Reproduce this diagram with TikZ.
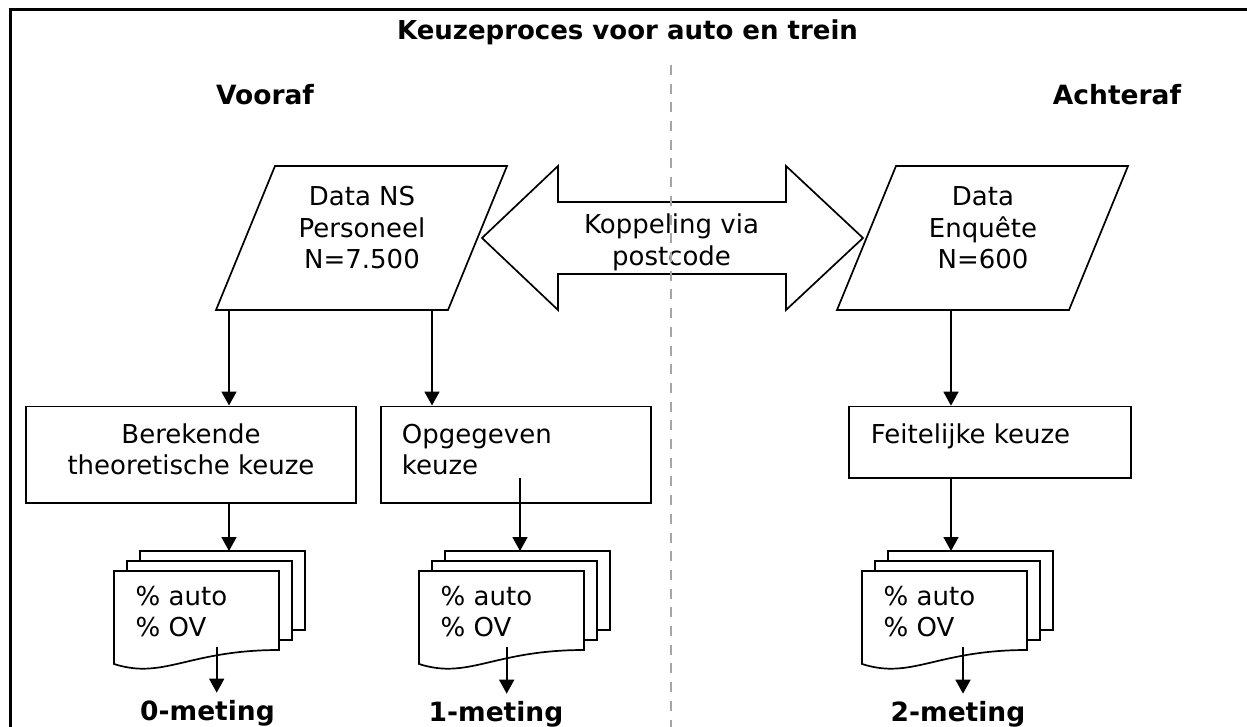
\documentclass[tikz,border=0pt]{standalone}
\usepackage{fontspec}
\setmainfont{DejaVu Sans}
\usetikzlibrary{arrows.meta}
\newcommand\docstack[1]{%
  \draw[shapeline, fill=white] (#1+26,551) rectangle (#1+191,630);
  \draw[shapeline, fill=white] (#1+13,561) rectangle (#1+178,640);
  \draw[shapeline, fill=white] (#1,571) -- (#1+165,571) -- (#1+165,650)
     .. controls (#1+74,650) and (#1+50,680) .. (#1,664) -- cycle;
}
\begin{document}
\begin{tikzpicture}[x=1pt,y=-1pt,
  shapeline/.style={line width=1.7pt, line join=miter},
  boxnode/.style={draw, line width=1.7pt, inner sep=0pt},
  arr/.style={line width=1.7pt, -{Triangle[length=14pt,width=15pt]}},
  reg/.style={font=\fontsize{26}{31.5}\selectfont, inner sep=0pt},
  hdr/.style={font=\fontsize{26.5}{32}\selectfont\bfseries, inner sep=0pt, anchor=base},
  dashline/.style={draw=gray!70, line width=2.2pt, dash pattern=on 10pt off 8.7pt},
]
\useasboundingbox (0,0) rectangle (1247,727);
\begin{scope}
  \clip (0,0) rectangle (1247,727);
  \draw[line width=3pt] (10,10) rectangle (1265,745);
\end{scope}

% headings
\node[hdr, font=\fontsize{26}{32}\selectfont\bfseries] (title) at (627.5,40) {Keuzeproces voor auto en trein};
\node[hdr] (voor) at (265,105) {Vooraf};
\node[hdr] (achter) at (1117,105) {Achteraf};

% data parallelograms
\draw[shapeline] (275,166) -- (507,166) -- (448,310) -- (216,310) -- cycle;
\node[reg, align=center] (data1) at (362,231.2) {\strut Data NS\\Personeel\\N=7.500\strut};
\draw[shapeline] (896,166) -- (1128,166) -- (1069,310) -- (837,310) -- cycle;
\node[reg, align=center] (data2) at (983,231.2) {\strut Data\\Enquête\\N=600\strut};

% double arrow
\draw[shapeline] (482,238) -- (558,166) -- (558,202) -- (786,202) -- (786,166)
  -- (863,238) -- (786,310) -- (786,274) -- (558,274) -- (558,310) -- cycle;
\node[reg, align=center] (koppel) at (671.5,243.45) {\strut Koppeling via\\postcode\strut};

% boxes
\node[boxnode, minimum width=330pt, minimum height=96.5pt] (box1) at (191,454.6) {};
\node[reg, align=center] (box1t) at (191,452.45) {\strut Berekende\\theoretische keuze\strut};
\node[boxnode, minimum width=270pt, minimum height=96.5pt] (box2) at (516,454.6) {};
\node[reg, align=left, anchor=west] (box2t) at (401.7,452.45) {\strut Opgegeven\\keuze\strut};
\node[boxnode, minimum width=282pt, minimum height=71.5pt] (box3) at (990,442.25) {};
\node[reg, anchor=base west] (box3t) at (870.7,443) {Feitelijke keuze};

\coordinate (p1a) at (229,310);
\coordinate (p1b) at (432,310);
\coordinate (p3) at (951,310);
\draw[arr] (p1a) -- (p1a |- box1.north);
\draw[arr] (p1b) -- (p1b |- box2.north);
\draw[arr] (p3) -- (p3 |- box3.north);

% document stacks
\docstack{114}
\docstack{419}
\docstack{862}
\coordinate (d1top) at (229,551);
\coordinate (d2top) at (520,551);
\coordinate (d3top) at (951,551);
\coordinate (b2in) at (520,478);
\draw[arr] (box1.south -| d1top) -- (d1top);
\draw[arr] (b2in) -- (d2top);
\draw[arr] (box3.south -| d3top) -- (d3top);

\node[reg, align=left, anchor=west] (doc1t) at (135.5,614.45) {\strut\% auto\\\% OV\strut};
\node[reg, align=left, anchor=west] (doc2t) at (440.5,614.45) {\strut\% auto\\\% OV\strut};
\node[reg, align=left, anchor=west] (doc3t) at (883.5,614.45) {\strut\% auto\\\% OV\strut};

% measurement labels
\node[hdr] (m0) at (207.5,720) {0-meting};
\node[hdr] (m1) at (496,721) {1-meting};
\node[hdr] (m2) at (958,721) {2-meting};
\coordinate (d1out) at (216.7,646.5);
\coordinate (d2out) at (506.7,646.5);
\coordinate (d3out) at (963,647);
\draw[arr, shorten >=7pt] (d1out) -- (d1out |- m0.north);
\draw[arr, shorten >=7pt] (d2out) -- (d2out |- m1.north);
\draw[arr, shorten >=7pt] (d3out) -- (d3out |- m2.north);

% divider
\draw[dashline] (671,65) -- (671,727);
\end{tikzpicture}
\end{document}
